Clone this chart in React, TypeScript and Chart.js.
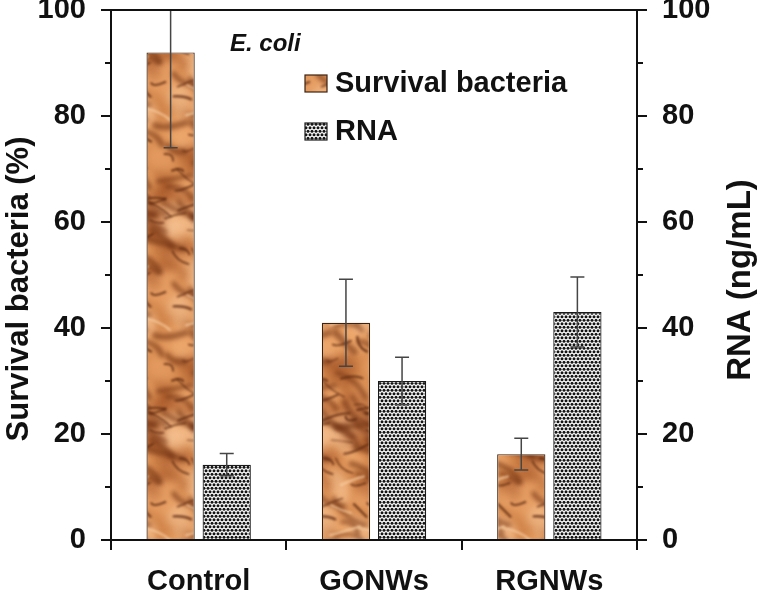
import React, { useEffect, useRef } from 'react';
import { Chart, registerables } from 'chart.js';

Chart.register(...registerables);

const categories = ['Control', 'GONWs', 'RGNWs'];
const survivalValues = [92, 41, 16.2];
const survivalErrors = [18, 8.2, 3];
const rnaValues = [14.2, 30, 43];
const rnaErrors = [2.1, 4.5, 6.6];
const seriesLabels = ['Survival bacteria', 'RNA'];
const minorTickValues = [10, 30, 50, 70, 90];
const annotationText = 'E. coli';
const leftTitle = 'Survival bacteria (%)';
const rightTitle = 'RNA (ng/mL)';

const FONT = '"Liberation Sans", Arial, Helvetica, sans-serif';
const INK = '#111111';

function hash(n: number): number {
  const s = Math.sin(n * 12.9898 + 78.233) * 43758.5453;
  return s - Math.floor(s);
}

function makeCopper(ctx: CanvasRenderingContext2D): CanvasPattern | string {
  const W = 72;
  const H = 210;
  const c = document.createElement('canvas');
  c.width = W;
  c.height = H;
  const g = c.getContext('2d');
  if (!g) return '#d08445';
  g.fillStyle = '#d3874c';
  g.fillRect(0, 0, W, H);
  const wrapDraw = (fn: (dx: number, dy: number) => void) => {
    for (const dx of [-W, 0, W]) for (const dy of [-H, 0, H]) fn(dx, dy);
  };
  g.filter = 'blur(4px)';
  for (let i = 0; i < 55; i++) {
    const x = hash(i) * W;
    const y = hash(i + 101) * H;
    const rx = 8 + hash(i + 202) * 16;
    const ry = 5 + hash(i + 303) * 10;
    const t = hash(i + 404);
    const col = t > 0.55 ? 'rgba(240,170,110,0.55)' : t > 0.2 ? 'rgba(150,70,30,0.35)' : 'rgba(246,196,150,0.6)';
    wrapDraw((dx, dy) => {
      g.fillStyle = col;
      g.beginPath();
      g.ellipse(x + dx, y + dy, rx, ry, hash(i + 505) * Math.PI, 0, Math.PI * 2);
      g.fill();
    });
  }
  g.lineCap = 'round';
  g.filter = 'blur(2px)';
  for (let i = 0; i < 22; i++) {
    const x = hash(i + 1500) * W;
    const y = hash(i + 1600) * H;
    const len = 18 + hash(i + 1700) * 28;
    const ang = -0.2 + hash(i + 1800) * 1.0;
    const bend = (hash(i + 1900) - 0.5) * 14;
    wrapDraw((dx, dy) => {
      const x0 = x + dx;
      const y0 = y + dy;
      const x1 = x0 + Math.cos(ang) * len;
      const y1 = y0 + Math.sin(ang) * len;
      g.strokeStyle = 'rgba(110,45,15,0.55)';
      g.lineWidth = 4 + hash(i + 2000) * 3;
      g.beginPath();
      g.moveTo(x0, y0);
      g.quadraticCurveTo((x0 + x1) / 2 + bend, (y0 + y1) / 2 - bend, x1, y1);
      g.stroke();
    });
  }
  g.filter = 'blur(0.8px)';
  for (let i = 0; i < 30; i++) {
    const x = hash(i + 700) * W;
    const y = hash(i + 800) * H;
    const len = 10 + hash(i + 900) * 22;
    const ang = -0.4 + hash(i + 1000) * 1.4;
    const bend = (hash(i + 1100) - 0.5) * 10;
    const w = 1 + hash(i + 1200) * 1.6;
    const dark = hash(i + 1300) > 0.3;
    wrapDraw((dx, dy) => {
      const x0 = x + dx;
      const y0 = y + dy;
      const x1 = x0 + Math.cos(ang) * len;
      const y1 = y0 + Math.sin(ang) * len;
      g.strokeStyle = dark ? 'rgba(85,35,12,0.75)' : 'rgba(250,205,160,0.7)';
      g.lineWidth = w;
      g.beginPath();
      g.moveTo(x0, y0);
      g.quadraticCurveTo((x0 + x1) / 2 + bend, (y0 + y1) / 2 - bend, x1, y1);
      g.stroke();
    });
  }
  g.filter = 'none';
  return ctx.createPattern(c, 'repeat') || '#d08445';
}

function makeDots(ctx: CanvasRenderingContext2D): CanvasPattern | string {
  const W = 8;
  const H = 7;
  const c = document.createElement('canvas');
  c.width = W;
  c.height = H;
  const g = c.getContext('2d');
  if (!g) return '#888';
  g.fillStyle = '#ffffff';
  g.fillRect(0, 0, W, H);
  g.fillStyle = '#141414';
  const pts = [
    [2, 1.75], [6, 1.75], [0, 5.25], [4, 5.25], [8, 5.25],
  ];
  for (const [x, y] of pts) {
    g.beginPath();
    g.arc(x, y, 1.5, 0, Math.PI * 2);
    g.fill();
  }
  return ctx.createPattern(c, 'repeat') || '#888';
}

export default function App() {
  const ref = useRef<HTMLCanvasElement | null>(null);

  useEffect(() => {
    document.body.style.margin = '0';
    const canvas = ref.current;
    if (!canvas) return;
    const ctx = canvas.getContext('2d');
    if (!ctx) return;
    const copper = makeCopper(ctx);
    const dots = makeDots(ctx);
    const errors = [survivalErrors, rnaErrors];
    const fills = [copper, dots];
    const borders = ['#3e2210', '#1a1a1a'];

    const decor = {
      id: 'decor',
      afterDatasetsDraw(chart: any) {
        const c = chart.ctx as CanvasRenderingContext2D;
        const area = chart.chartArea;
        c.save();
        c.beginPath();
        c.rect(area.left, area.top - 1, area.right - area.left, area.bottom - area.top + 1);
        c.clip();
        c.strokeStyle = '#454545';
        c.lineWidth = 1.5;
        chart.data.datasets.forEach((ds: any, di: number) => {
          const meta = chart.getDatasetMeta(di);
          const scale = chart.scales[meta.yAxisID];
          meta.data.forEach((el: any, i: number) => {
            const v = ds.data[i];
            const e = errors[di][i];
            const x = el.x;
            const yTop = scale.getPixelForValue(v + e);
            const yBot = scale.getPixelForValue(v - e);
            c.beginPath();
            c.moveTo(x, yTop);
            c.lineTo(x, yBot);
            c.moveTo(x - 7, yTop);
            c.lineTo(x + 7, yTop);
            c.moveTo(x - 7, yBot);
            c.lineTo(x + 7, yBot);
            c.stroke();
          });
        });
        c.restore();
      },
      afterDraw(chart: any) {
        const c = chart.ctx as CanvasRenderingContext2D;
        const area = chart.chartArea;
        c.save();
        c.strokeStyle = INK;
        c.lineWidth = 2;
        c.beginPath();
        c.moveTo(area.left - 10, area.top);
        c.lineTo(area.right + 10, area.top);
        c.stroke();
        for (const v of minorTickValues) {
          const pl = chart.scales.y.getPixelForValue(v);
          const pr = chart.scales.y1.getPixelForValue(v);
          c.beginPath();
          c.moveTo(area.left - 6, pl);
          c.lineTo(area.left, pl);
          c.moveTo(area.right, pr);
          c.lineTo(area.right + 6, pr);
          c.stroke();
        }
        c.fillStyle = INK;
        c.textAlign = 'center';
        c.textBaseline = 'middle';
        c.font = `bold 31px ${FONT}`;
        c.save();
        c.translate(19, (area.top + area.bottom) / 2 + 14);
        c.rotate(-Math.PI / 2);
        c.fillText(leftTitle, 0, 0);
        c.restore();
        c.font = `bold 33px ${FONT}`;
        c.save();
        c.translate(741, (area.top + area.bottom) / 2 + 5);
        c.rotate(-Math.PI / 2);
        c.fillText(rightTitle, 0, 0);
        c.restore();
        c.font = `italic bold 24px ${FONT}`;
        c.textAlign = 'left';
        c.fillText(annotationText, area.left + 119, area.top + 34);
        c.font = `bold 29px ${FONT}`;
        const lx = area.left + 194;
        const rows = [area.top + 73, area.top + 121];
        seriesLabels.forEach((lab, i) => {
          const cy = rows[i];
          c.fillStyle = fills[i] as any;
          c.fillRect(lx, cy - 8, 22, 17);
          c.strokeStyle = borders[i];
          c.lineWidth = 1.2;
          c.strokeRect(lx, cy - 8, 22, 17);
          c.fillStyle = INK;
          c.fillText(lab, lx + 30, cy + 1);
        });
        c.restore();
      },
    };

    const tickFont = { family: FONT, size: 29, weight: 'bold' as const };

    const chart = new Chart(canvas, {
      type: 'bar',
      data: {
        labels: categories,
        datasets: [
          {
            label: seriesLabels[0],
            data: survivalValues,
            backgroundColor: copper as any,
            borderColor: borders[0],
            borderWidth: 1.2,
            yAxisID: 'y',
            categoryPercentage: 0.64,
            barPercentage: 0.86,
          },
          {
            label: seriesLabels[1],
            data: rnaValues,
            backgroundColor: dots as any,
            borderColor: borders[1],
            borderWidth: 1.2,
            yAxisID: 'y1',
            categoryPercentage: 0.64,
            barPercentage: 0.86,
          },
        ],
      },
      options: {
        responsive: true,
        maintainAspectRatio: false,
        animation: false,
        layout: { padding: { top: 10, left: 0, right: 0, bottom: 0 } },
        plugins: {
          legend: { display: false },
          tooltip: { enabled: false },
        },
        scales: {
          x: {
            grid: {
              display: true,
              drawOnChartArea: false,
              offset: true,
              tickLength: 10,
              color: INK,
              lineWidth: 2,
            },
            border: { display: true, color: INK, width: 2 },
            ticks: { font: tickFont, color: INK, padding: 15 },
            afterFit: (s: any) => {
              s.height = 55;
              s.paddingLeft = 0;
              s.paddingRight = 0;
            },
          },
          y: {
            position: 'left',
            min: 0,
            max: 100,
            ticks: { stepSize: 20, font: tickFont, color: INK, padding: 15 },
            grid: { drawOnChartArea: false, tickLength: 10, color: INK, lineWidth: 2 },
            border: { display: true, color: INK, width: 2 },
            afterFit: (s: any) => {
              s.width = 111;
              s.paddingTop = 0;
              s.paddingBottom = 0;
            },
          },
          y1: {
            position: 'right',
            min: 0,
            max: 100,
            ticks: { stepSize: 20, font: tickFont, color: INK, padding: 15 },
            grid: { drawOnChartArea: false, tickLength: 10, color: INK, lineWidth: 2 },
            border: { display: true, color: INK, width: 2 },
            afterFit: (s: any) => {
              s.width = 120;
              s.paddingTop = 0;
              s.paddingBottom = 0;
            },
          },
        },
      },
      plugins: [decor],
    });

    return () => chart.destroy();
  }, []);

  return (
    <div style={{ position: 'relative', width: 757, height: 595, background: '#fff' }}>
      <canvas ref={ref} />
    </div>
  );
}
